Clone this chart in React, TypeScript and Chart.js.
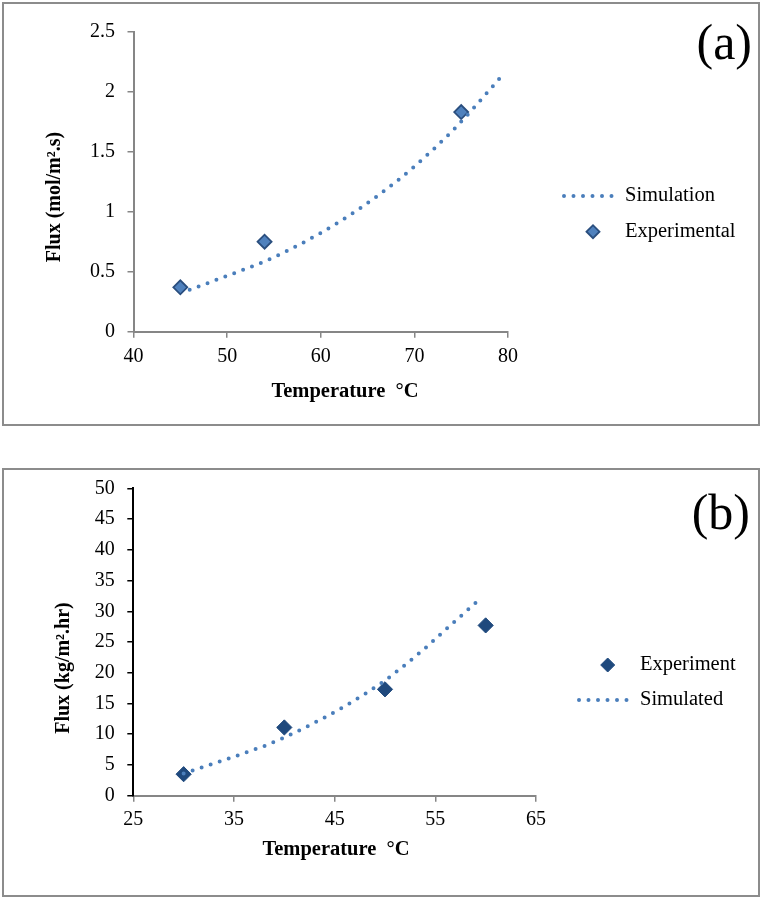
import React, { useEffect, useRef } from 'react';
import { Chart, registerables } from 'chart.js';

Chart.register(...registerables);

// ---------- Data: panel (a) ----------
const simTempA = [46, 48, 50, 52, 54, 56, 58, 60, 62, 64, 66, 68, 70, 72, 74, 76, 78, 79.5];
const simFluxA = [0.35, 0.407, 0.466, 0.524, 0.585, 0.657, 0.737, 0.822, 0.916, 1.017, 1.127, 1.246, 1.376, 1.517, 1.667, 1.834, 2.012, 2.147];
const expTempA = [45, 54, 75];
const expFluxA = [0.37, 0.75, 1.83];
const xTicksA = [40, 50, 60, 70, 80];
const yTicksA = [0, 0.5, 1, 1.5, 2, 2.5];

// ---------- Data: panel (b) ----------
const simTempB = [30, 32, 34, 36, 38, 40, 42, 44, 46, 48, 50, 52, 54, 56, 58, 59.5];
const simFluxB = [3.6, 4.72, 5.79, 6.91, 8.07, 9.46, 11.03, 12.72, 14.53, 16.55, 18.72, 21.27, 24.0, 26.98, 29.9, 32.1];
const expTempB = [30, 40, 50, 60];
const expFluxB = [3.5, 11.1, 17.3, 27.7];
const xTicksB = [25, 35, 45, 55, 65];
const yTicksB = [0, 5, 10, 15, 20, 25, 30, 35, 40, 45, 50];

const SERIF = '"Liberation Serif", "Times New Roman", serif';
const GRAY = '#868686';
const LINE_BLUE = '#4A7EBB';

const decorPlugin = {
  id: 'decor',
  afterDraw(chart: any, _args: any, opts: any) {
    const ctx = chart.ctx as CanvasRenderingContext2D;
    ctx.save();
    ctx.fillStyle = '#000';
    ctx.textAlign = 'center';
    ctx.textBaseline = 'middle';
    ctx.font = `bold ${opts.titleSize}px ${SERIF}`;
    ctx.fillText(opts.xTitle, opts.xTitlePos[0], opts.xTitlePos[1]);
    ctx.font = `bold ${opts.yTitleSize}px ${SERIF}`;
    ctx.save();
    ctx.translate(opts.yTitlePos[0], opts.yTitlePos[1]);
    ctx.rotate(-Math.PI / 2);
    ctx.fillText(opts.yTitle, 0, 0);
    ctx.restore();

    ctx.font = `50px ${SERIF}`;
    ctx.textAlign = 'right';
    ctx.textBaseline = 'alphabetic';
    ctx.fillText(opts.panel, opts.panelPos[0], opts.panelPos[1]);

    ctx.font = `20.5px ${SERIF}`;
    ctx.textAlign = 'left';
    ctx.textBaseline = 'middle';
    for (const item of opts.legend) {
      const ds = chart.data.datasets[item.index];
      if (item.kind === 'line') {
        ctx.save();
        ctx.strokeStyle = ds.borderColor;
        ctx.lineWidth = ds.borderWidth;
        ctx.lineCap = 'round';
        ctx.setLineDash(ds.borderDash);
        ctx.beginPath();
        ctx.moveTo(item.x1, item.y);
        ctx.lineTo(item.x2, item.y);
        ctx.stroke();
        ctx.restore();
      } else {
        const r = item.r;
        ctx.save();
        ctx.beginPath();
        ctx.moveTo(item.x - r, item.y);
        ctx.lineTo(item.x, item.y - r);
        ctx.lineTo(item.x + r, item.y);
        ctx.lineTo(item.x, item.y + r);
        ctx.closePath();
        ctx.fillStyle = ds.backgroundColor;
        ctx.fill();
        ctx.strokeStyle = ds.borderColor;
        ctx.lineWidth = ds.borderWidth;
        ctx.stroke();
        ctx.restore();
      }
      ctx.fillStyle = '#000';
      ctx.fillText(ds.label, item.textX, item.y);
    }
    ctx.restore();
  },
};

function toPoints(xs: number[], ys: number[]) {
  return xs.map((x, i) => ({ x, y: ys[i] }));
}

function makeScale(
  min: number,
  max: number,
  ticks: number[],
  fitSize: number,
  horizontal: boolean,
  padding: number,
  color: string
) {
  return {
    type: 'linear',
    min,
    max,
    afterBuildTicks: (s: any) => {
      s.ticks = ticks.map((v) => ({ value: v }));
    },
    afterFit: (s: any) => {
      if (horizontal) s.height = fitSize;
      else s.width = fitSize;
    },
    ticks: {
      color: '#000',
      font: { family: SERIF, size: 20 },
      padding,
      callback: (v: any) => String(v),
    },
    grid: {
      drawOnChartArea: false,
      drawTicks: true,
      tickLength: 6,
      color,
      lineWidth: 1.5,
    },
    border: { display: true, color, width: 2 },
  };
}

function ChartCanvas({ config, top, height }: { config: any; top: number; height: number }) {
  const ref = useRef<HTMLCanvasElement | null>(null);
  useEffect(() => {
    if (!ref.current) return;
    const chart = new Chart(ref.current, config);
    return () => chart.destroy();
  }, []);
  return (
    <canvas
      ref={ref}
      width={762}
      height={height}
      style={{ position: 'absolute', left: 0, top, width: 762, height }}
    />
  );
}

const H_A = 447;
const H_B = 452;

const configA = {
  type: 'scatter',
  data: {
    datasets: [
      {
        label: 'Simulation',
        data: toPoints(simTempA, simFluxA),
        showLine: true,
        pointRadius: 0,
        borderColor: LINE_BLUE,
        backgroundColor: LINE_BLUE,
        borderWidth: 4,
        borderDash: [0, 9.5],
        borderCapStyle: 'round',
        tension: 0,
        order: 0,
      },
      {
        label: 'Experimental',
        data: toPoints(expTempA, expFluxA),
        showLine: false,
        pointStyle: 'rectRot',
        pointRadius: 7,
        pointBackgroundColor: '#4F81BD',
        pointBorderColor: '#2A4E7E',
        pointBorderWidth: 1.8,
        backgroundColor: '#4F81BD',
        borderColor: '#2A4E7E',
        borderWidth: 1.8,
        order: 1,
      },
    ],
  },
  options: {
    responsive: false,
    animation: false,
    devicePixelRatio: 1,
    layout: { padding: { left: 0, top: 31.7, right: 254, bottom: 0 } },
    plugins: {
      legend: { display: false },
      tooltip: { enabled: false },
      decor: {
        xTitle: 'Temperature  °C',
        yTitle: 'Flux (mol/m².s)',
        titleSize: 20.5,
        yTitleSize: 20,
        xTitlePos: [345, 391.7],
        yTitlePos: [55, 197],
        panel: '(a)',
        panelPos: [752, 58.5],
        legend: [
          { index: 0, kind: 'line', x1: 564, x2: 614, y: 196, textX: 625 },
          { index: 1, kind: 'marker', x: 593, y: 231.7, r: 6.5, textX: 625 },
        ],
      },
    },
    scales: {
      x: makeScale(40, 80, xTicksA, H_A - 331.7, true, 7, GRAY),
      y: makeScale(0, 2.5, yTicksA, 133.5, false, 12.5, GRAY),
    },
  },
  plugins: [decorPlugin],
};

const configB = {
  type: 'scatter',
  data: {
    datasets: [
      {
        label: 'Experiment',
        data: toPoints(expTempB, expFluxB),
        showLine: false,
        pointStyle: 'rectRot',
        pointRadius: 7.6,
        pointBackgroundColor: '#1F497D',
        pointBorderColor: '#1F497D',
        pointBorderWidth: 1,
        backgroundColor: '#1F497D',
        borderColor: '#1F497D',
        borderWidth: 1,
        order: 1,
      },
      {
        label: 'Simulated',
        data: toPoints(simTempB, simFluxB),
        showLine: true,
        pointRadius: 0,
        borderColor: LINE_BLUE,
        backgroundColor: LINE_BLUE,
        borderWidth: 4,
        borderDash: [0, 9.5],
        borderCapStyle: 'round',
        tension: 0,
        order: 0,
      },
    ],
  },
  options: {
    responsive: false,
    animation: false,
    devicePixelRatio: 1,
    layout: { padding: { left: 0, top: 41.3, right: 226, bottom: 0 } },
    plugins: {
      legend: { display: false },
      tooltip: { enabled: false },
      decor: {
        xTitle: 'Temperature  °C',
        yTitle: 'Flux (kg/m².hr)',
        titleSize: 20.5,
        yTitleSize: 20,
        xTitlePos: [336, 403],
        yTitlePos: [63.5, 221],
        panel: '(b)',
        panelPos: [750, 81.5],
        legend: [
          { index: 0, kind: 'marker', x: 607.7, y: 218, r: 7, textX: 640 },
          { index: 1, kind: 'line', x1: 579, x2: 630, y: 253, textX: 640 },
        ],
      },
    },
    scales: {
      x: makeScale(25, 65, xTicksB, H_B - 348.7, true, 6, GRAY),
      y: makeScale(0, 50, yTicksB, 133.3, false, 12.5, '#000'),
    },
  },
  plugins: [decorPlugin],
};

export default function App() {
  return (
    <div style={{ position: 'absolute', left: 0, top: 0, width: 762, height: 899, overflow: 'hidden', background: '#fff' }}>
      <ChartCanvas config={configA} top={0} height={H_A} />
      <ChartCanvas config={configB} top={447} height={H_B} />
      <div
        style={{
          position: 'absolute',
          left: 2,
          top: 2,
          width: 758,
          height: 424,
          border: '2px solid #8C8C8C',
          boxSizing: 'border-box',
          pointerEvents: 'none',
        }}
      />
      <div
        style={{
          position: 'absolute',
          left: 2,
          top: 468,
          width: 758,
          height: 429,
          border: '2px solid #8C8C8C',
          boxSizing: 'border-box',
          pointerEvents: 'none',
        }}
      />
    </div>
  );
}
